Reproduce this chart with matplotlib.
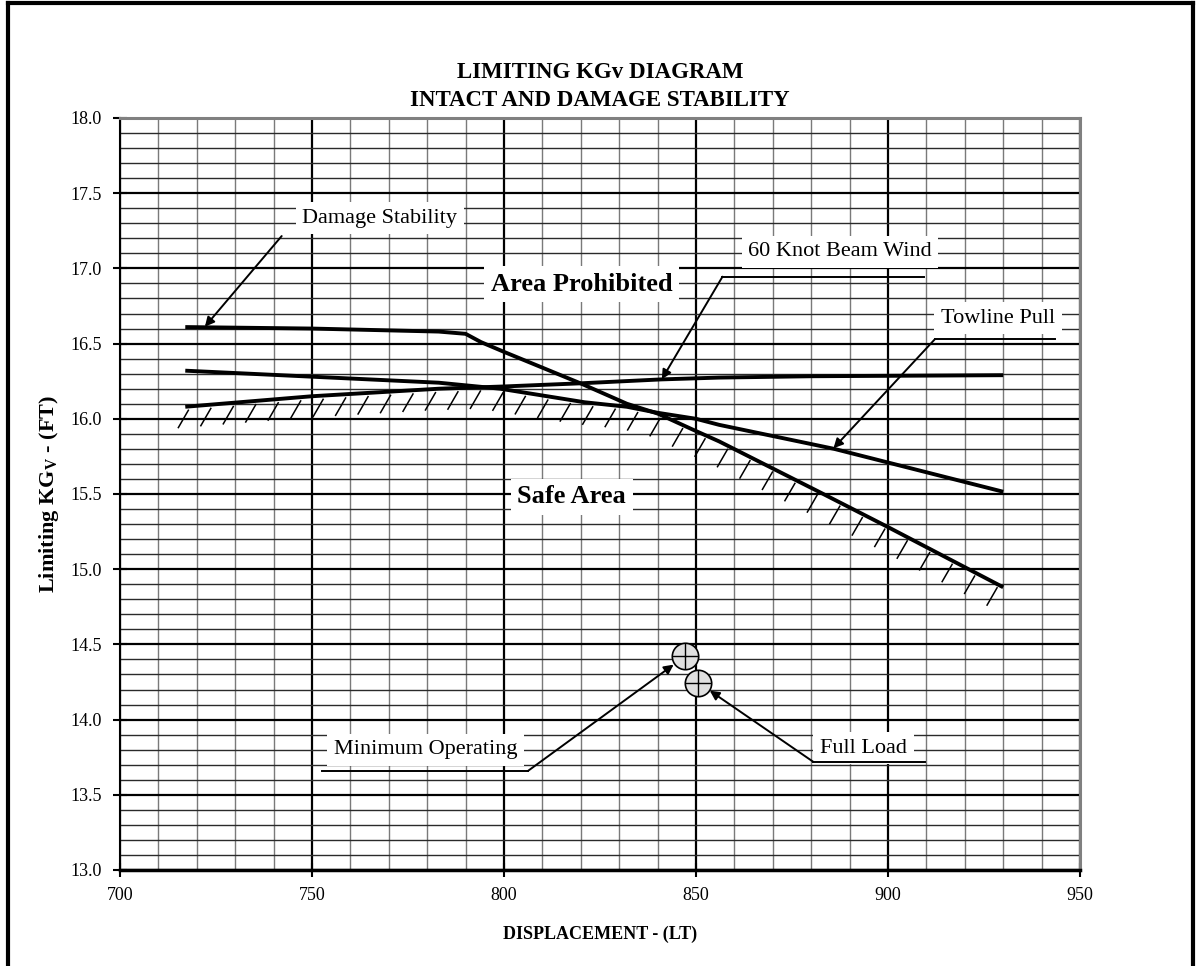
import matplotlib
matplotlib.use('Agg')
import matplotlib.pyplot as plt
import numpy as np
from matplotlib.lines import Line2D

plt.rcParams['font.family'] = ['Liberation Serif', 'DejaVu Serif']
plt.rcParams['mathtext.fontset'] = 'custom'
plt.rcParams['mathtext.rm'] = 'Liberation Serif'
plt.rcParams['mathtext.bf'] = 'Liberation Serif:bold'

# ---------------- data ----------------
damage_x = [717, 750, 783, 790, 794, 800, 810, 820, 832, 840, 849, 856, 882, 900, 930]
damage_y = [16.61, 16.60, 16.58, 16.565, 16.51, 16.445, 16.34, 16.235, 16.10, 16.035, 15.93, 15.85, 15.515, 15.28, 14.88]

towline_x = [717, 750, 783, 799, 810, 821, 832, 840, 850, 856, 886, 930]
towline_y = [16.32, 16.28, 16.24, 16.20, 16.155, 16.11, 16.08, 16.04, 16.00, 15.96, 15.80, 15.515]

wind_x = [717, 750, 783, 800, 820, 841, 856, 880, 930]
wind_y = [16.08, 16.15, 16.20, 16.215, 16.236, 16.262, 16.274, 16.283, 16.29]

cond_names = ['Minimum Operating', 'Full Load']
cond_x = [847.1, 850.6]
cond_y = [14.42, 14.245]

x_ticks = [700, 750, 800, 850, 900, 950]
y_ticks = [13.0, 13.5, 14.0, 14.5, 15.0, 15.5, 16.0, 16.5, 17.0, 17.5, 18.0]

# ---------------- figure ----------------
fig = plt.figure(figsize=(12, 9.66), dpi=100)
ax = fig.add_axes([120/1200, 1 - 870/966, 960/1200, (870 - 118)/966])
ax.set_xlim(700, 950)
ax.set_ylim(13, 18)

ax.set_xticks(x_ticks)
ax.set_xticklabels([str(v) for v in x_ticks], fontsize=13)
ax.set_yticks(y_ticks)
ax.set_yticklabels([f'{v:.1f}' for v in y_ticks], fontsize=13)
ax.set_xticks(np.arange(700, 951, 10), minor=True)
ax.set_yticks(np.arange(13, 18.001, 0.1), minor=True)
ax.tick_params(which='minor', length=0)
ax.tick_params(which='major', direction='inout', length=10, width=1.5, color='black')
ax.tick_params(axis='x', which='major', pad=7)
ax.tick_params(axis='y', which='major', pad=8)

ax.grid(which='minor', axis='x', color='#7a7a7a', lw=1.0, zorder=1)
ax.grid(which='minor', axis='y', color='#2a2a2a', lw=1.0, zorder=1)
ax.grid(which='major', color='black', lw=1.6, zorder=1)
ax.set_axisbelow(True)

for s in ['top', 'right']:
    ax.spines[s].set_color('#808080')
    ax.spines[s].set_linewidth(2.2)
ax.spines['left'].set_color('black')
ax.spines['left'].set_linewidth(1.5)
ax.spines['bottom'].set_color('black')
ax.spines['bottom'].set_linewidth(2.5)

# curves
for xs, ys in [(damage_x, damage_y), (towline_x, towline_y), (wind_x, wind_y)]:
    ax.plot(xs, ys, color='black', lw=2.8, solid_capstyle='butt', zorder=4)

# hatching below the limiting envelope
hx = np.arange(717.8, 931, 5.85)
env = np.minimum.reduce([np.interp(hx, damage_x, damage_y),
                         np.interp(hx, towline_x, towline_y),
                         np.interp(hx, wind_x, wind_y)])
for x0, e in zip(hx, env):
    ax.plot([x0 - 2.6, x0], [e - 0.14, e - 0.025], color='black', lw=1.1, zorder=3)

# markers
ax.plot(cond_x, cond_y, 'o', ms=19, mfc='#e0e0e0', mec='black', mew=1.2, zorder=7)
ax.plot(cond_x, cond_y, '+', ms=19, mec='black', mew=1.0, zorder=8)

# callouts
def callout(text, txy, start, tip, underline=None, shrink=0.0):
    ax.text(txy[0], txy[1], text, ha='center', va='center', fontsize=16,
            bbox=dict(boxstyle='square,pad=0.3', fc='white', ec='none'), zorder=5)
    if underline is not None:
        ax.plot(underline, [start[1], start[1]], color='black', lw=1.4, zorder=6)
    ax.annotate('', xy=tip, xytext=start, zorder=6,
                arrowprops=dict(arrowstyle='-|>', color='black', lw=1.4,
                                mutation_scale=14, shrinkA=0, shrinkB=shrink))

callout('Damage Stability', (767.7, 17.335), (742.1, 17.215), (722.1, 16.612))
callout('60 Knot Beam Wind', (887.5, 17.111), (856.9, 16.945), (841.1, 16.263),
        underline=[856.9, 909.4])
callout('Towline Pull', (928.6, 16.668), (912.2, 16.529), (885.8, 15.804),
        underline=[912.2, 943.5])
callout('Minimum Operating', (779.6, 13.80), (806.2, 13.658), (cond_x[0], cond_y[0]),
        underline=[752.5, 806.2], shrink=10)
callout('Full Load', (893.6, 13.81), (880.5, 13.72), (cond_x[1], cond_y[1]),
        underline=[880.5, 909.6], shrink=10)

ax.text(820.2, 16.894, 'Area Prohibited', ha='center', va='center', fontsize=19,
        fontweight='bold', bbox=dict(boxstyle='square,pad=0.25', fc='white', ec='none'), zorder=5)
ax.text(817.6, 15.482, 'Safe Area', ha='center', va='center', fontsize=19,
        fontweight='bold', bbox=dict(boxstyle='square,pad=0.25', fc='white', ec='none'), zorder=5)

# labels and title
ax.set_xlabel('DISPLACEMENT - (LT)', fontsize=13, fontweight='bold', labelpad=16)
ax.set_ylabel(r'Limiting KG$_{\mathbf{V}}$ - (FT)', fontsize=16, fontweight='bold', labelpad=7)
fig.text(0.5, 1 - 72/966, 'LIMITING KGv DIAGRAM', ha='center', va='center',
         fontsize=16.5, fontweight='bold')
fig.text(0.5, 1 - 100/966, 'INTACT AND DAMAGE STABILITY', ha='center', va='center',
         fontsize=16.5, fontweight='bold')

# outer frame
for xs, ys in [([0.0067, 0.0067], [0, 0.997]), ([0.0067, 0.994], [0.997, 0.997]),
               ([0.994, 0.994], [0, 0.997])]:
    fig.add_artist(Line2D(xs, ys, transform=fig.transFigure, color='black', lw=3))

fig.savefig('out.png', dpi=100)
